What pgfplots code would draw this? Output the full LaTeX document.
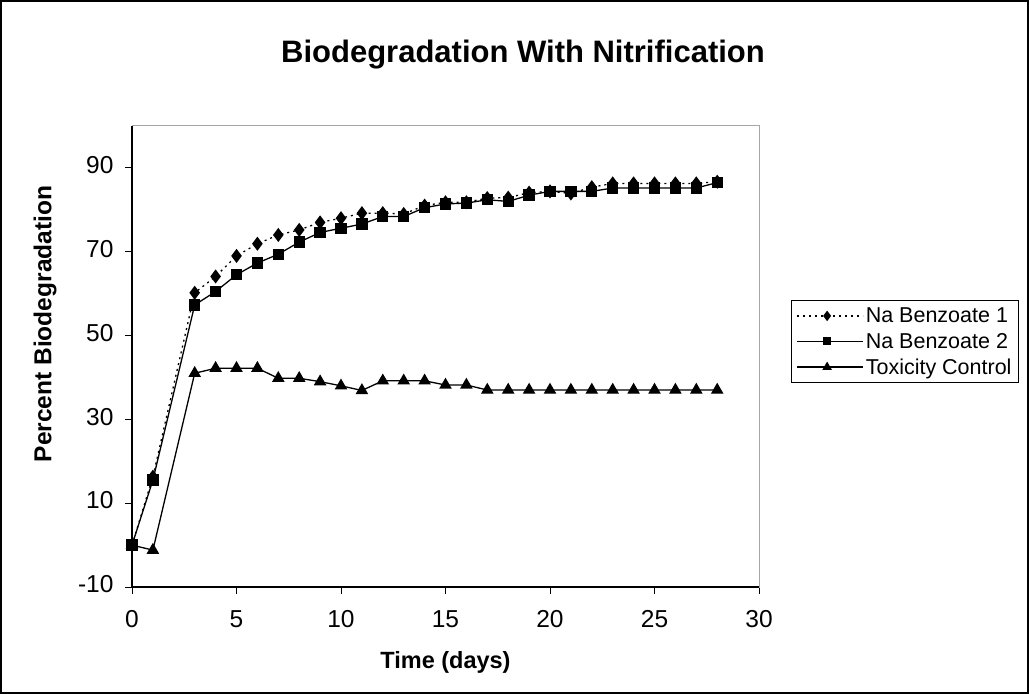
\documentclass[border=0pt]{standalone}
\usepackage{pgfplots}
\usepackage{pgfplotstable}
\pgfplotsset{compat=1.18}
\usepackage{fontspec}
\setmainfont{Liberation Sans}

\pgfplotstableread{
day  nb1   nb2   tox
0    0     0     0
1    16.3  15.5  -1.2
3    60.2  57.3  41
4    64.1  60.5  42.2
5    69    64.5  42.2
6    71.9  67.3  42.2
7    74    69.4  39.8
8    75.2  72.3  39.8
9    77    74.6  39
10   78    75.6  38
11   79.2  76.6  36.9
12   79.2  78.4  39.2
13   79    78.4  39.2
14   81    80.5  39.2
15   81.8  81.4  38.2
16   81.8  81.6  38.2
17   82.8  82.4  37
18   82.9  82    37
19   84.1  83.5  37
20   84.4  84.4  37
21   83.9  84.4  37
22   85.4  84.4  37
23   86.3  85.2  37
24   86.3  85.2  37
25   86.3  85.2  37
26   86.3  85.2  37
27   86.3  85.2  37
28   86.7  86.5  37
}\datatable

\begin{document}
\begin{tikzpicture}[x=1pt,y=1pt]
\path[use as bounding box] (0,0) rectangle (1029,694);
\draw[black,line width=1.5pt] (1,1) rectangle (1028,693);
\begin{axis}[
  at={(132pt,107pt)}, anchor=south west,
  scale only axis, width=627pt, height=461pt,
  xmin=0, xmax=30, ymin=-10, ymax=100,
  xtick={0,5,...,30}, ytick={-10,10,...,90},
  axis line style={draw=gray!70, line width=1pt},
  tick align=outside, xtick pos=bottom, ytick pos=left,
  major tick length=7pt,
  tick style={black, line width=1pt},
  /pgf/number format/assume math mode=true,
  typeset ticklabels with strut,
  ticklabel style={font=\fontsize{24.5}{29}\selectfont},
  xticklabel style={yshift=-10pt},
  yticklabel style={xshift=-8pt},
  title={\bfseries Biodegradation With Nitrification},
  title style={font=\fontsize{31}{37}\selectfont, at={(axis description cs:0.6236,1.141)}, anchor=center},
  xlabel={\bfseries Time (days)},
  xlabel style={font=\fontsize{23.5}{28}\selectfont, at={(axis description cs:0.5,-0.1627)}, anchor=center},
  ylabel={\bfseries Percent Biodegradation},
  ylabel style={font=\fontsize{24.5}{29}\selectfont, at={(axis description cs:-0.1388,0.5705)}, anchor=center, rotate=0},
  legend style={at={(axis description cs:1.051,0.622)}, anchor=north west,
    draw=black, line width=1pt, font=\fontsize{21.5}{26}\selectfont,
    row sep=5pt, inner sep=5pt},
  legend cell align=left,
  legend image code/.code={
    \draw[#1] (0pt,0pt) -- (60pt,0pt);
    \path[#1, solid, mark options={scale=0.7}] plot coordinates {(30pt,0pt)};
    \path (0pt,0pt) -- (66pt,0pt);
  },
  clip=false,
]
\addplot[black, line width=1.3pt, dash pattern=on 2pt off 4pt, mark=diamond*, mark size=6pt, mark options={solid}] table[x=day,y=nb1] {\datatable};
\addlegendentry{Na Benzoate 1}
\addplot[black, line width=1.3pt, mark=square*, mark size=5pt, mark options={solid}] table[x=day,y=nb2] {\datatable};
\addlegendentry{Na Benzoate 2}
\addplot[black, line width=1.3pt, mark=triangle*, mark size=6pt, mark options={solid}] table[x=day,y=tox] {\datatable};
\addlegendentry{Toxicity Control}
\draw[black, line width=1.3pt] (rel axis cs:0,1) -- (rel axis cs:0,0) -- (rel axis cs:1,0);
\end{axis}
\end{tikzpicture}
\end{document}
